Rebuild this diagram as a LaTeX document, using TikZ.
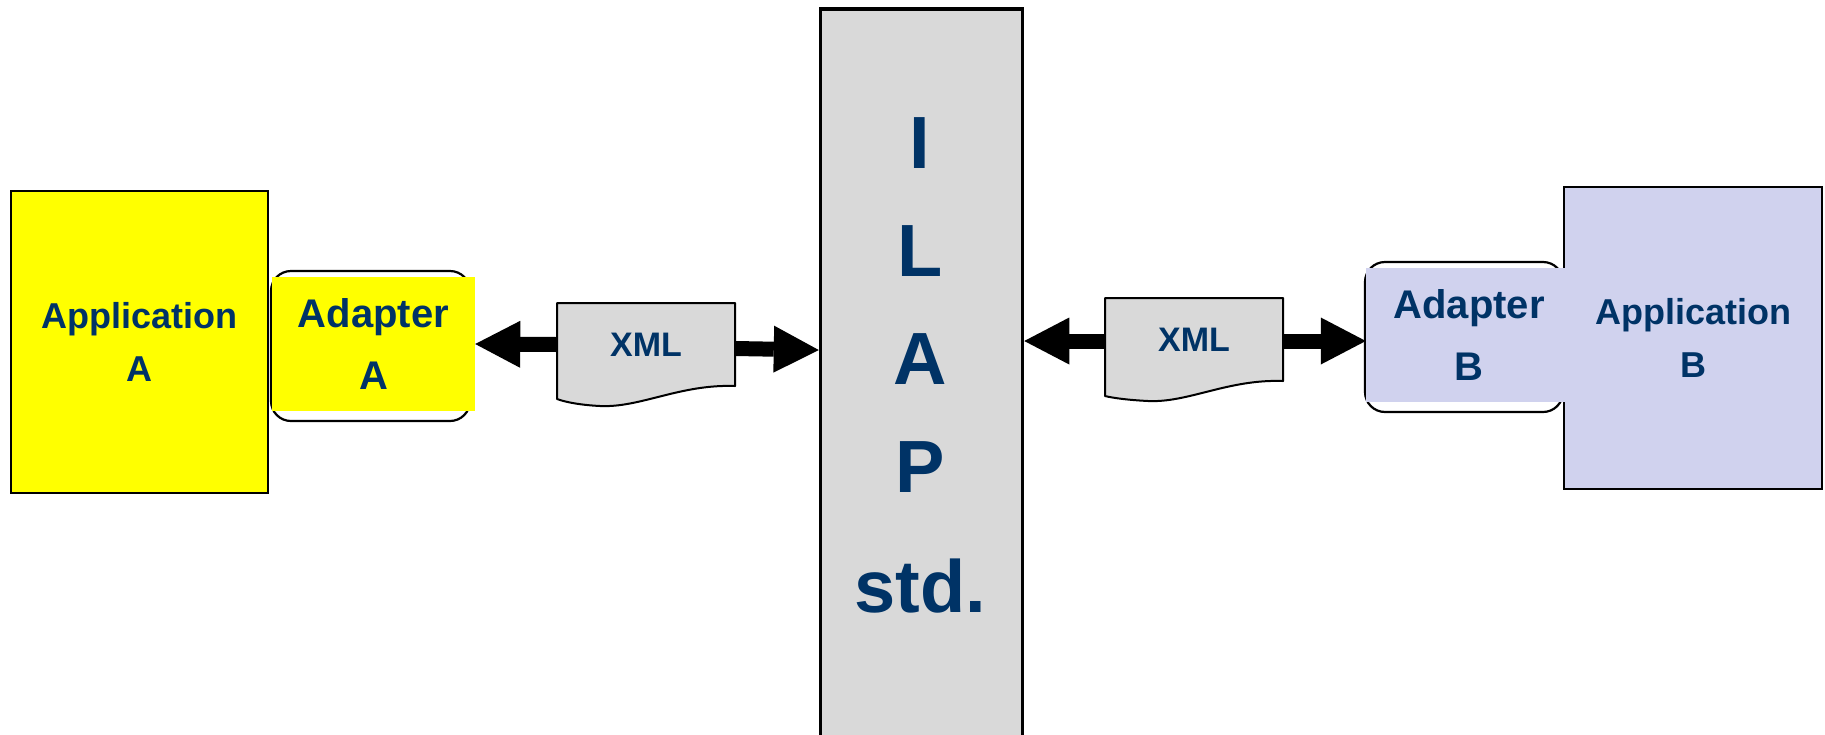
\documentclass[tikz,border=0pt]{standalone}
\usepackage{fontspec}
\setmainfont{Liberation Sans}
\usetikzlibrary{arrows.meta,calc}
\definecolor{txtblue}{RGB}{0,51,102}
\definecolor{appyellow}{RGB}{255,255,0}
\definecolor{lav}{RGB}{208,210,238}
\definecolor{docgray}{RGB}{217,217,217}
\begin{document}
\begin{tikzpicture}[x=1pt,y=-1pt,
  appbox/.style={draw=black, line width=2pt, inner sep=0pt, text=txtblue, align=center,
    font=\fontsize{36}{53}\selectfont\bfseries},
  adframe/.style={draw=black, line width=2.2pt, rounded corners=20pt},
  adfill/.style={inner sep=0pt, text=txtblue, align=center,
    font=\fontsize{40}{62}\selectfont\bfseries},
  docshape/.style={draw=black, fill=docgray, line width=2pt, line join=round},
  docnode/.style={inner sep=0pt, text=txtblue, minimum width=178pt, minimum height=83pt,
    font=\fontsize{34}{40}\selectfont\bfseries},
  ilaptext/.style={inner sep=0pt, text=txtblue, align=center,
    font=\fontsize{74}{108}\selectfont\bfseries},
  bigarrow/.style={line width=15pt, -{Triangle[length=45pt,width=47pt,line width=0pt]}}
]
\useasboundingbox (0,0) rectangle (1825,734);
% ILAP standard
\node[draw=black, fill=docgray, line width=3.5pt, minimum width=202pt, minimum height=740pt, inner sep=0pt] (ilap) at (921.5,379) {};
\node[ilaptext, anchor=base] (ilapt) at (920,612) {I\\L\\A\\P\\[12pt]std.};
% Application A and adapter A
\node[appbox, fill=appyellow, minimum width=257pt, minimum height=302pt] (appA) at (139.5,342) {Application\\A};
\draw[adframe] (271,271) rectangle (470,421);
\node[adfill, fill=appyellow, minimum width=203pt, minimum height=134pt] (adA) at (373.5,344) {Adapter\\A};
% XML A
\draw[docshape] (557,303) -- (735,303) -- (735,386) .. controls (680,384) and (640,408) .. (600,406) .. controls (580,405) and (565,402) .. (557,399) -- cycle;
\node[docnode] (xmlA) at (646,344.5) {XML};
% XML B
\draw[docshape] (1105,298) -- (1283,298) -- (1283,381) .. controls (1228,379) and (1188,403) .. (1148,401) .. controls (1128,400) and (1113,398) .. (1105,396) -- cycle;
\node[docnode] (xmlB) at (1194,339.5) {XML};
% Application B and adapter B
\node[appbox, fill=lav, minimum width=258pt, minimum height=302pt] (appB) at (1693,338) {Application\\B};
\draw[adframe] (1365,262) rectangle (1563,412);
\node[adfill, fill=lav, minimum width=206pt, minimum height=134pt] (adB) at (1469,335) {Adapter\\B};
% arrows
\draw[bigarrow] (xmlA.west) -- (adA.east);
\draw[bigarrow] ($(xmlA.east)+(0,4)$) -- ($(ilap.west |- xmlA.east)+(0,5.5)$);
\draw[bigarrow] ($(xmlB.west)+(0,1.5)$) -- ($(ilap.east |- xmlB.west)+(0,1.5)$);
\draw[bigarrow] ($(xmlB.east)+(0,1.5)$) -- ($(adB.west |- xmlB.east)+(0,1.5)$);
\end{tikzpicture}
\end{document}
